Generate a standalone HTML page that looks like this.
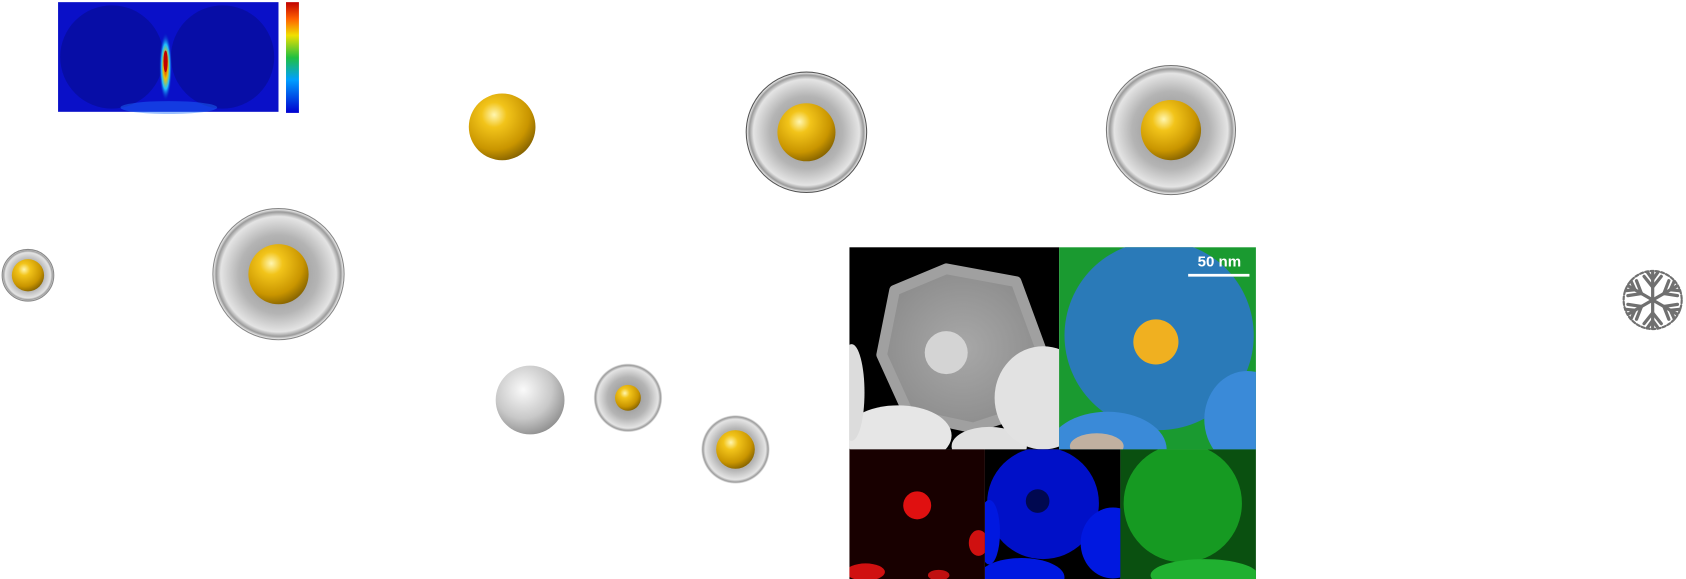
<!DOCTYPE html>
<html><head><meta charset="utf-8"><style>
html,body{margin:0;padding:0;background:#fff;}
svg{display:block;}
</style></head><body>
<svg width="1686" height="579" viewBox="0 0 1568 538.5" preserveAspectRatio="none" xmlns="http://www.w3.org/2000/svg">
<defs>
<radialGradient id="gold" cx="0.38" cy="0.32" r="0.75">
<stop offset="0" stop-color="#fff6b0"/><stop offset="0.25" stop-color="#f2c41a"/><stop offset="0.7" stop-color="#c99500"/><stop offset="1" stop-color="#7a5a00"/></radialGradient>
<radialGradient id="shell" cx="0.5" cy="0.5" r="0.5">
<stop offset="0" stop-color="#8a8a8a"/><stop offset="0.6" stop-color="#b4b4b4"/><stop offset="0.88" stop-color="#e4e4e4"/><stop offset="0.95" stop-color="#9a9a9a"/><stop offset="1" stop-color="#fff"/></radialGradient>
<radialGradient id="silver" cx="0.4" cy="0.35" r="0.7">
<stop offset="0" stop-color="#fafafa"/><stop offset="0.6" stop-color="#c8c8c8"/><stop offset="1" stop-color="#8c8c8c"/></radialGradient>
<linearGradient id="cbar" x1="0" y1="1" x2="0" y2="0">
<stop offset="0" stop-color="#0000d0"/><stop offset="0.3" stop-color="#00a0ff"/><stop offset="0.5" stop-color="#20c040"/><stop offset="0.7" stop-color="#f0e000"/><stop offset="0.85" stop-color="#ff6000"/><stop offset="1" stop-color="#c00000"/></linearGradient>
<radialGradient id="hot" cx="0.5" cy="0.5" r="0.5">
<stop offset="0" stop-color="#d00000"/><stop offset="0.35" stop-color="#f0c000"/><stop offset="0.65" stop-color="#20c0ff"/><stop offset="1" stop-color="#0010c0" stop-opacity="0"/></radialGradient>
<radialGradient id="tem" cx="0.5" cy="0.5" r="0.5"><stop offset="0" stop-color="#a8a8a8"/><stop offset="1" stop-color="#8e8e8e"/></radialGradient>
<clipPath id="gr"><rect x="790" y="230" width="195" height="188"/></clipPath>
</defs>

<g>
<rect x="54" y="2" width="205" height="102" fill="#0a10c8"/>
<ellipse cx="104" cy="53" rx="48" ry="48" fill="#060c9e" opacity="0.8"/>
<ellipse cx="207" cy="53" rx="48" ry="48" fill="#060c9e" opacity="0.8"/>
<ellipse cx="157" cy="100" rx="45" ry="6" fill="#1e70ff" opacity="0.45"/>
<ellipse cx="154" cy="62" rx="6" ry="32" fill="url(#hot)"/>
<ellipse cx="154" cy="57" rx="2" ry="10" fill="#c00000"/>
</g>
<rect x="266" y="2" width="12" height="103" fill="url(#cbar)"/>

<g><circle cx="467" cy="118" r="31" fill="url(#gold)"/></g>

<g><circle cx="750" cy="123" r="56" fill="url(#shell)" stroke="#555" stroke-width="1"/><circle cx="750" cy="123" r="27" fill="url(#gold)"/></g>
<g><circle cx="1089" cy="121" r="60" fill="url(#shell)" stroke="#777" stroke-width="1"/><circle cx="1089" cy="121" r="28" fill="url(#gold)"/></g>
<g><circle cx="26" cy="256" r="24" fill="url(#shell)" stroke="#888" stroke-width="1"/><circle cx="26" cy="256" r="15" fill="url(#gold)"/></g>
<g><circle cx="259" cy="255" r="61" fill="url(#shell)" stroke="#888" stroke-width="1"/><circle cx="259" cy="255" r="28" fill="url(#gold)"/></g>

<g><circle cx="493" cy="372" r="32" fill="url(#silver)"/></g>
<g><circle cx="584" cy="370" r="32" fill="url(#shell)"/><circle cx="584" cy="370" r="12" fill="url(#gold)"/></g>
<g><circle cx="684" cy="418" r="32" fill="url(#shell)"/><circle cx="684" cy="418" r="18" fill="url(#gold)"/></g>

<g>
<rect x="790" y="230" width="195" height="188" fill="#000"/>
<g clip-path="url(#gr)">
<path d="M832 270 L880 250 L945 262 L970 330 L960 380 L905 398 L845 385 L820 330 Z" fill="url(#tem)" stroke="#a0a0a0" stroke-width="10" stroke-linejoin="round"/>
<circle cx="880" cy="328" r="20" fill="#d4d4d4"/>
<ellipse cx="835" cy="405" rx="50" ry="28" fill="#e6e6e6"/>
<ellipse cx="920" cy="415" rx="35" ry="18" fill="#e0e0e0"/>
<ellipse cx="970" cy="370" rx="45" ry="48" fill="#e2e2e2"/>
<ellipse cx="792" cy="365" rx="12" ry="45" fill="#dcdcdc"/>
</g>
<rect x="985" y="230" width="183" height="188" fill="#1a9a30"/>
<clipPath id="ov"><rect x="985" y="230" width="183" height="188"/></clipPath>
<g clip-path="url(#ov)">
<circle cx="1078" cy="312" r="88" fill="#2a7ab8"/>
<ellipse cx="1030" cy="418" rx="55" ry="35" fill="#3a8ad8"/>
<ellipse cx="1160" cy="390" rx="40" ry="45" fill="#3a8ad8"/>
<ellipse cx="1020" cy="415" rx="25" ry="12" fill="#c0b0a0"/>
<circle cx="1075" cy="318" r="21" fill="#f0b020"/>
</g>
<line x1="1105" y1="256" x2="1162" y2="256" stroke="#fff" stroke-width="2.5"/>
<text x="1134" y="248" fill="#fff" font-family="Liberation Sans, sans-serif" font-weight="bold" font-size="14" text-anchor="middle">50 nm</text>
<rect x="790" y="418" width="126" height="121" fill="#180000"/>
<clipPath id="au"><rect x="790" y="418" width="126" height="121"/></clipPath>
<g clip-path="url(#au)">
<circle cx="853" cy="470" r="13" fill="#e01010"/>
<ellipse cx="910" cy="505" rx="9" ry="12" fill="#d01010"/>
<ellipse cx="805" cy="532" rx="18" ry="8" fill="#d01010"/>
<ellipse cx="873" cy="535" rx="10" ry="5" fill="#c01010"/>
</g>
<rect x="916" y="418" width="126" height="121" fill="#000"/>
<clipPath id="si"><rect x="916" y="418" width="126" height="121"/></clipPath>
<g clip-path="url(#si)">
<circle cx="970" cy="468" r="52" fill="#0010c8"/>
<circle cx="965" cy="466" r="11" fill="#000850"/>
<ellipse cx="1035" cy="505" rx="30" ry="33" fill="#0018e0"/>
<ellipse cx="950" cy="537" rx="40" ry="18" fill="#0018e0"/>
<ellipse cx="920" cy="495" rx="10" ry="30" fill="#0018e0"/>
</g>
<rect x="1042" y="418" width="126" height="121" fill="#0a5010"/>
<clipPath id="ag"><rect x="1042" y="418" width="126" height="121"/></clipPath>
<g clip-path="url(#ag)">
<circle cx="1100" cy="468" r="55" fill="#169a22"/>
<ellipse cx="1120" cy="535" rx="50" ry="15" fill="#20b030"/>
</g>
</g>

<g transform="translate(1537,279)" stroke="#707070" stroke-width="3" fill="none" stroke-linecap="round">
<circle r="27" stroke-width="2" stroke-dasharray="3 2"/>
<g id="br"><line x1="0" y1="0" x2="0" y2="-26"/><line x1="0" y1="-12" x2="-8" y2="-22"/><line x1="0" y1="-12" x2="8" y2="-22"/><line x1="0" y1="-19" x2="-5" y2="-26"/><line x1="0" y1="-19" x2="5" y2="-26"/></g>
<use href="#br" transform="rotate(60)"/><use href="#br" transform="rotate(120)"/><use href="#br" transform="rotate(180)"/><use href="#br" transform="rotate(240)"/><use href="#br" transform="rotate(300)"/>
</g>
</svg>
</body></html>
